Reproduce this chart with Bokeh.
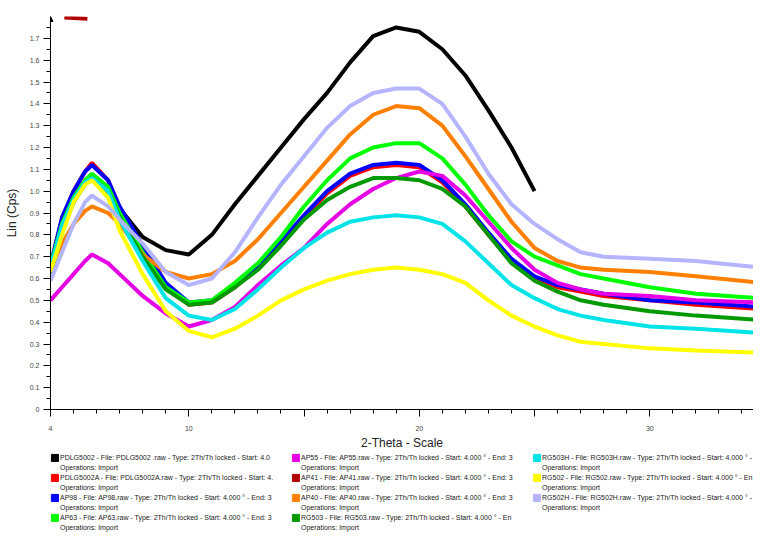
from bokeh.plotting import figure
from bokeh.layouts import column
from bokeh.models import (Legend, LegendItem, FixedTicker, Range1d, CustomJSTickFormatter,
                          Arrow, NormalHead)
from bokeh.embed import file_html
from bokeh.resources import INLINE

two_theta = [4, 4.5, 5, 5.5, 5.8, 6.5, 7, 8, 9, 10, 11, 12, 13, 14, 15, 16, 17, 18, 19, 20,
             21, 22, 23, 24, 25, 26, 27, 28, 30, 32, 34.8]

pdlg5002 = [0.62, 0.82, 0.95, 1.04, 1.06, 0.98, 0.92, 0.79, 0.73, 0.71, 0.80, 0.94, 1.07, 1.20, 1.33,
            1.45, 1.59, 1.71, 1.75, 1.73, 1.65, 1.53, 1.37, 1.20, 1.00]
pdlg5002a = [0.66, 0.87, 1.00, 1.09, 1.13, 1.05, 0.92, 0.74, 0.57, 0.48, 0.49, 0.56, 0.65, 0.76, 0.88,
             0.99, 1.07, 1.11, 1.12, 1.11, 1.04, 0.93, 0.80, 0.68, 0.60, 0.56, 0.54, 0.52, 0.50, 0.48, 0.46]
ap98 = [0.66, 0.88, 1.00, 1.09, 1.12, 1.05, 0.93, 0.75, 0.58, 0.49, 0.50, 0.57, 0.66, 0.77, 0.89,
        1.00, 1.08, 1.12, 1.13, 1.12, 1.05, 0.94, 0.81, 0.69, 0.61, 0.57, 0.55, 0.53, 0.50, 0.49, 0.47]
ap63 = [0.66, 0.85, 0.97, 1.05, 1.08, 1.02, 0.90, 0.72, 0.56, 0.49, 0.50, 0.58, 0.67, 0.79, 0.93,
        1.05, 1.15, 1.20, 1.22, 1.22, 1.15, 1.03, 0.89, 0.77, 0.70, 0.66, 0.62, 0.60, 0.56, 0.53, 0.51]
ap55 = [0.50, 0.56, 0.62, 0.68, 0.71, 0.67, 0.62, 0.52, 0.44, 0.38, 0.41, 0.47, 0.57, 0.66, 0.74,
        0.85, 0.94, 1.01, 1.06, 1.09, 1.07, 0.98, 0.86, 0.74, 0.64, 0.58, 0.55, 0.53, 0.52, 0.50, 0.49]
ap41_theta = [4.6, 5.6]
ap41 = [1.795, 1.790]
ap40 = [0.65, 0.76, 0.85, 0.91, 0.93, 0.90, 0.85, 0.71, 0.63, 0.60, 0.62, 0.68, 0.78, 0.90, 1.02,
        1.14, 1.26, 1.35, 1.39, 1.38, 1.30, 1.16, 1.01, 0.86, 0.74, 0.68, 0.65, 0.64, 0.63, 0.61, 0.58]
rg503 = [0.62, 0.82, 0.95, 1.03, 1.06, 1.00, 0.88, 0.70, 0.55, 0.48, 0.49, 0.56, 0.64, 0.75, 0.87,
         0.96, 1.02, 1.06, 1.06, 1.05, 1.01, 0.93, 0.80, 0.67, 0.59, 0.54, 0.50, 0.48, 0.45, 0.43, 0.41]
rg503h = [0.65, 0.84, 0.96, 1.04, 1.06, 1.00, 0.87, 0.68, 0.51, 0.43, 0.41, 0.46, 0.55, 0.65, 0.74,
          0.81, 0.86, 0.88, 0.89, 0.88, 0.85, 0.77, 0.67, 0.57, 0.51, 0.46, 0.43, 0.41, 0.38, 0.37, 0.35]
rg502 = [0.63, 0.80, 0.95, 1.03, 1.05, 0.97, 0.82, 0.62, 0.45, 0.36, 0.33, 0.37, 0.43, 0.50, 0.55,
         0.59, 0.62, 0.64, 0.65, 0.64, 0.62, 0.58, 0.50, 0.43, 0.38, 0.34, 0.31, 0.30, 0.28, 0.27, 0.26]
rg502h = [0.59, 0.72, 0.85, 0.95, 0.98, 0.93, 0.87, 0.76, 0.63, 0.57, 0.60, 0.72, 0.88, 1.03, 1.16,
          1.29, 1.39, 1.45, 1.47, 1.47, 1.40, 1.25, 1.08, 0.94, 0.85, 0.78, 0.72, 0.70, 0.69, 0.68, 0.65]

series_names = ["PDLG5002", "PDLG5002A", "AP98", "AP63", "AP55", "AP41", "AP40",
                "RG503", "RG503H", "RG502", "RG502H"]
series_colors = ["#000000", "#ff0000", "#0000ff", "#00ff00", "#e600e6", "#b00000", "#ff8000",
                 "#009900", "#00e4e8", "#ffff00", "#b4b4ff"]
series_x = [two_theta[:len(pdlg5002)], two_theta, two_theta, two_theta, two_theta, ap41_theta,
            two_theta, two_theta, two_theta, two_theta, two_theta]
series_y = [pdlg5002, pdlg5002a, ap98, ap63, ap55, ap41, ap40, rg503, rg503h, rg502, rg502h]
legend_labels = [
    "PDLG5002 - File: PDLG5002 .raw - Type: 2Th/Th locked - Start: 4.0",
    "PDLG5002A - File: PDLG5002A.raw - Type: 2Th/Th locked - Start: 4.",
    "AP98 - File: AP98.raw - Type: 2Th/Th locked - Start: 4.000 \u00b0 - End: 3",
    "AP63 - File: AP63.raw - Type: 2Th/Th locked - Start: 4.000 \u00b0 - End: 3",
    "AP55 - File: AP55.raw - Type: 2Th/Th locked - Start: 4.000 \u00b0 - End: 3",
    "AP41 - File: AP41.raw - Type: 2Th/Th locked - Start: 4.000 \u00b0 - End: 3",
    "AP40 - File: AP40.raw - Type: 2Th/Th locked - Start: 4.000 \u00b0 - End: 3",
    "RG503 - File: RG503.raw - Type: 2Th/Th locked - Start: 4.000 \u00b0 - En",
    "RG503H - File: RG503H.raw - Type: 2Th/Th locked - Start: 4.000 \u00b0 -",
    "RG502 - File: RG502.raw - Type: 2Th/Th locked - Start: 4.000 \u00b0 - En",
    "RG502H - File: RG502H.raw - Type: 2Th/Th locked - Start: 4.000 \u00b0 -",
]
second_line = "Operations: Import"

x_ticks = [4, 10, 15, 20, 25, 30]
x_labeled = [4, 10, 20, 30]
y_ticks = [i / 10 for i in range(18)]

FONT = "Liberation Sans"

p = figure(width=753, height=452, output_backend="svg", toolbar_location=None,
           x_range=Range1d(4, 34.5), y_range=Range1d(0, 1.80),
           min_border_left=50, min_border_right=0, min_border_top=16, min_border_bottom=43)
p.outline_line_color = None
p.xgrid.visible = False
p.ygrid.visible = False

for xs, ys, c in zip(series_x, series_y, series_colors):
    p.line(xs, ys, line_color=c, line_width=4)

p.xaxis.ticker = FixedTicker(ticks=x_ticks, minor_ticks=list(range(4, 35)))
p.xaxis.formatter = CustomJSTickFormatter(
    args=dict(lab=x_labeled),
    code="return lab.includes(tick) ? tick.toFixed(0) : '';")
p.yaxis.ticker = FixedTicker(ticks=y_ticks, minor_ticks=[i / 20 for i in range(36)])
p.yaxis.formatter = CustomJSTickFormatter(code="return tick == 0 ? '0' : tick.toFixed(1);")
for ax in (p.xaxis[0], p.yaxis[0]):
    ax.axis_line_color = "#000000"
    ax.major_tick_line_color = "#000000"
    ax.minor_tick_line_color = "#000000"
    ax.major_tick_in = 0
    ax.minor_tick_in = 0
    ax.major_tick_out = 7
    ax.minor_tick_out = 4
    ax.major_label_text_font = FONT
    ax.major_label_text_font_size = "7px"
    ax.major_label_text_color = "#444444"
    ax.axis_label_text_font = FONT
    ax.axis_label_text_font_size = "12px"
    ax.axis_label_text_font_style = "normal"
    ax.axis_label_text_color = "#222222"
p.xaxis.axis_label = "2-Theta - Scale"
p.yaxis.axis_label = "Lin (Cps)"
p.xaxis.major_label_standoff = 9
p.xaxis.axis_label_standoff = 2
p.yaxis.major_label_standoff = 4
p.yaxis.axis_label_standoff = 8

p.add_layout(Arrow(end=NormalHead(size=5, fill_color="black", line_color="black"),
                   line_width=0, x_start=4, y_start=1.78, x_end=4, y_end=1.80,
                   line_color="black"))

# legend figure
lg = figure(width=753, height=80, output_backend="svg", toolbar_location=None,
            x_axis_type=None, y_axis_type=None, x_range=Range1d(0, 1), y_range=Range1d(0, 1),
            min_border_left=43, min_border_right=0, min_border_top=0, min_border_bottom=0)
lg.outline_line_color = None
lg.xgrid.visible = False
lg.ygrid.visible = False
nan = float("nan")
items = []
for c, lab in zip(series_colors, legend_labels):
    r = lg.quad(left=[nan], right=[nan], top=[nan], bottom=[nan], fill_color=c, line_color=c)
    items.append(LegendItem(label=lab, renderers=[r]))
    r2 = lg.quad(left=[nan], right=[nan], top=[nan], bottom=[nan], fill_alpha=0, line_alpha=0)
    items.append(LegendItem(label=second_line, renderers=[r2]))
legend = Legend(items=items, ncols=3, orientation="vertical", location="top_left",
                label_text_font=FONT, label_text_font_size="7px", label_text_color="#222222",
                glyph_width=9, glyph_height=9, label_height=10, label_standoff=1, spacing=0,
                label_width=231, padding=0, margin=0, border_line_alpha=0,
                background_fill_alpha=0)
lg.add_layout(legend)

layout = column(p, lg, spacing=0)
open("out.html", "w").write(file_html(layout, INLINE))
